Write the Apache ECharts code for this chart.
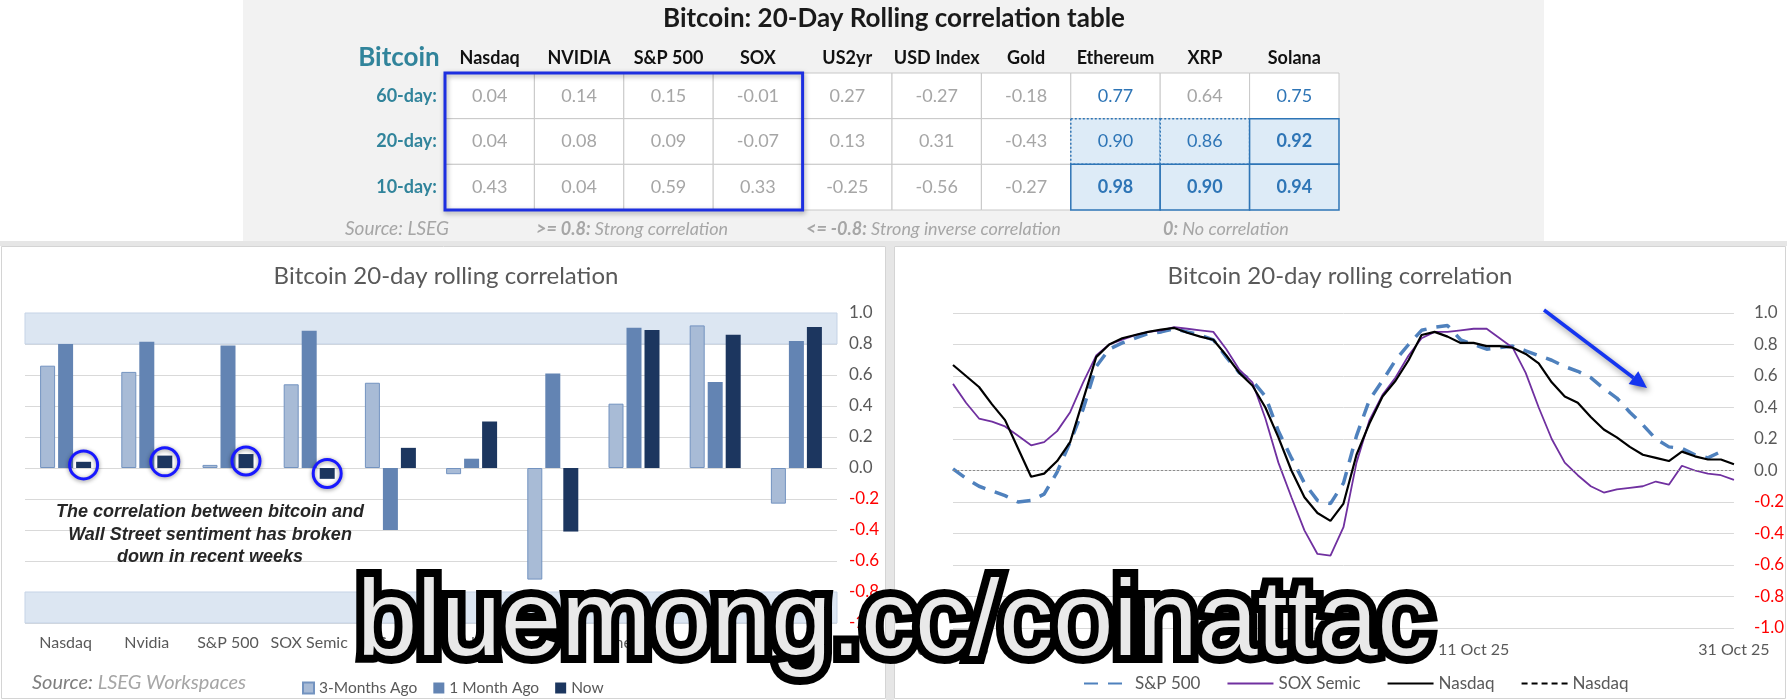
<!DOCTYPE html>
<html><head><meta charset="utf-8">
<script src="https://cdn.jsdelivr.net/npm/echarts@6/dist/echarts.min.js"></script>
<style>html,body{margin:0;padding:0;background:#fff}#c{width:1787px;height:700px}</style>
</head><body><div id="c"></div>
<script>
// ---------- Table data ----------
const tableCols = ['Nasdaq','NVIDIA','S&P 500','SOX','US2yr','USD Index','Gold','Ethereum','XRP','Solana'];
const tableRows = ['60-day:','20-day:','10-day:'];
const corr60 = [0.04, 0.14, 0.15, -0.01, 0.27, -0.27, -0.18, 0.77, 0.64, 0.75];
const corr20 = [0.04, 0.08, 0.09, -0.07, 0.13, 0.31, -0.43, 0.90, 0.86, 0.92];
const corr10 = [0.43, 0.04, 0.59, 0.33, -0.25, -0.56, -0.27, 0.98, 0.90, 0.94];
const equityCols = ['Nasdaq','NVIDIA','S&P 500','SOX'];

// ---------- Bar chart data ----------
const barCats = ['Nasdaq','Nvidia','S&P 500','SOX Semic','US 2yr','USD Index','Gold','Ethereum','XRP','Solana'];
const threeMonthsAgo = [0.66, 0.62, 0.02, 0.54, 0.55, -0.04, -0.72, 0.415, 0.92, -0.23];
const oneMonthAgo    = [0.80, 0.815, 0.79, 0.885, -0.40, 0.06, 0.61, 0.905, 0.555, 0.82];
const nowVals        = [0.04, 0.08, 0.09, -0.07, 0.13, 0.30, -0.41, 0.89, 0.86, 0.91];
const circledCats = ['Nasdaq','Nvidia','S&P 500','SOX Semic'];

// ---------- Line chart data (daily, 01 Sep 25 .. 31 Oct 25) ----------
const spx = [0.01,-0.05,-0.10,-0.13,-0.16,-0.20,-0.19,-0.15,-0.01,0.18,
             0.39,0.66,0.77,0.81,0.84,0.87,0.88,0.90,0.88,0.86,
             0.83,0.72,0.62,0.57,0.47,0.25,0.08,-0.08,-0.19,-0.21,
             -0.08,0.22,0.45,0.57,0.70,0.80,0.89,0.91,0.92,0.83,
             0.80,0.77,0.78,0.79,0.76,0.73,0.70,0.66,0.63,0.59,
             0.52,0.46,0.37,0.29,0.20,0.15,0.14,0.10,0.08,0.12,null];
const sox = [0.55,0.43,0.33,0.31,0.28,0.22,0.16,0.18,0.25,0.37,
             0.56,0.73,0.80,0.83,0.86,0.88,0.89,0.91,0.90,0.89,
             0.88,0.77,0.64,0.56,0.33,0.05,-0.17,-0.38,-0.53,-0.54,
             -0.36,0.05,0.32,0.48,0.59,0.73,0.84,0.88,0.88,0.89,
             0.90,0.90,0.84,0.78,0.62,0.40,0.20,0.05,-0.03,-0.10,
             -0.14,-0.12,-0.11,-0.10,-0.07,-0.09,0.03,0.00,-0.02,-0.03,-0.06];
const nasdaq = [0.67,0.60,0.53,0.42,0.32,0.14,-0.04,-0.02,0.06,0.18,
                0.45,0.72,0.80,0.84,0.86,0.88,0.895,0.905,0.875,0.85,
                0.83,0.73,0.62,0.54,0.40,0.21,0.00,-0.17,-0.27,-0.32,
                -0.21,0.10,0.30,0.47,0.57,0.70,0.86,0.88,0.85,0.81,
                0.81,0.79,0.79,0.78,0.74,0.68,0.56,0.47,0.43,0.34,
                0.26,0.21,0.15,0.10,0.08,0.06,0.12,0.09,0.07,0.07,0.04];
const monthDays = [['Sep', 30], ['Oct', 31]];
const dates = [];
monthDays.forEach(([m, n]) => { for (let d = 1; d <= n; d++) dates.push((d < 10 ? '0' : '') + d + ' ' + m + ' 25'); });

const yTicks = {min: -1, max: 1, interval: 0.2};

// ---------- helpers ----------
const FONT = 'Lato, "Open Sans", sans-serif';
const GRAY = '#595959';
const tableData = [];
[corr60, corr20, corr10].forEach((arr, r) => arr.forEach((v, c) => tableData.push([c, r, v])));

function cellStyle(c, r, v) {
  const crypto = c >= 7;
  const strong = crypto && v >= 0.8;
  const blue = crypto && v >= 0.7;
  const dotted = strong && r === 1 && c < 9;
  return {strong, blue, dotted, bold: strong && !dotted};
}
function renderCell(params, api) {
  const c = api.value(0), r = api.value(1), v = api.value(2);
  const ctr = api.coord([c, r]);
  const sz = api.size([1, 1]);
  const st = cellStyle(c, r, v);
  const x = ctr[0] - sz[0] / 2, y = ctr[1] - sz[1] / 2;
  return {type: 'group', children: [
    {type: 'rect', z2: st.strong ? (st.dotted ? 10 : 11) : 1,
     shape: {x: x, y: y, width: sz[0], height: sz[1]},
     style: {fill: st.strong ? '#ddebf7' : '#ffffff', stroke: st.strong ? '#2e75b6' : '#c8c8c8',
             lineWidth: st.strong ? 1.5 : 1, lineDash: st.dotted ? [2, 2] : null}},
    {type: 'text', z2: 20,
     style: {text: v.toFixed(2), x: ctr[0], y: ctr[1], align: 'center', verticalAlign: 'middle',
             textAlign: 'center', textVerticalAlign: 'middle',
             fill: st.blue ? '#2e75b6' : '#a6a6a6', fontSize: 18,
             fontWeight: st.bold ? 'bold' : 'normal', fontFamily: FONT}}
  ]};
}
function renderBox(params, api) {
  const a = api.coord([api.value(0), api.value(1)]);
  const b = api.coord([api.value(2), api.value(3)]);
  const sz = api.size([1, 1]);
  return {type: 'rect', z2: 30,
    shape: {x: a[0] - sz[0] / 2, y: a[1] - sz[1] / 2, width: b[0] - a[0] + sz[0], height: b[1] - a[1] + sz[1]},
    style: {fill: 'none', stroke: '#1d2fe0', lineWidth: 3, shadowBlur: 5, shadowColor: 'rgba(0,0,0,0.35)', shadowOffsetX: 1, shadowOffsetY: 2}};
}
const yLabel = {
  color: v => Number(v) < 0 ? '#ff0000' : GRAY,
  formatter: v => Number(v).toFixed(1),
  fontSize: 17, fontFamily: FONT
};
function txt(text, x, y, size, color, extra) {
  return Object.assign({type: 'text', z: 50, style: Object.assign({
    text: text, x: x, y: y, fill: color, fontSize: size, fontFamily: FONT,
    align: 'left', textAlign: 'left', verticalAlign: 'middle', textVerticalAlign: 'middle'
  }, extra || {})});
}
const richBold = sz => ({b: {fontWeight: 'bold', fontStyle: 'italic', fontSize: sz, fill: '#a6a6a6', fontFamily: FONT}});

// arrow geometry (annotation)
const arrowFrom = [1544, 310], arrowTo = [1647, 388];
const adx = arrowTo[0] - arrowFrom[0], ady = arrowTo[1] - arrowFrom[1];
const alen = Math.hypot(adx, ady), ux = adx / alen, uy = ady / alen;
const hb = [arrowTo[0] - 17 * ux, arrowTo[1] - 17 * uy];

const WM = 'bluemong.cc/coinattac';
const WMFONT = '"Liberation Sans", Arial, sans-serif';

const chart = echarts.init(document.getElementById('c'), null, {width: 1787, height: 700});
chart.setOption({
  animation: false,
  backgroundColor: '#ffffff',
  textStyle: {fontFamily: FONT},
  graphic: [
    {type: 'rect', z: -10, shape: {x: 243, y: 0, width: 1301, height: 242}, style: {fill: '#f2f2f2'}},
    {type: 'rect', z: -10, shape: {x: 0, y: 241, width: 1787, height: 5}, style: {fill: '#e6e6e6'}},
    {type: 'rect', z: -10, shape: {x: 886, y: 241, width: 8, height: 459}, style: {fill: '#e6e6e6'}},
    {type: 'rect', z: -9, shape: {x: 1.5, y: 246.5, width: 884, height: 452}, style: {fill: '#ffffff', stroke: '#d4d4d4', lineWidth: 1}},
    {type: 'rect', z: -9, shape: {x: 894.5, y: 246.5, width: 891, height: 452}, style: {fill: '#ffffff', stroke: '#d4d4d4', lineWidth: 1}},
    txt('Bitcoin: 20-Day Rolling correlation table', 894, 19, 26, '#1a1a1a', {fontWeight: 'bold', align: 'center', textAlign: 'center'}),
    txt('Bitcoin', 399, 58, 26, '#31849b', {fontWeight: 'bold', align: 'center', textAlign: 'center'}),
    txt('Source: LSEG', 345, 229, 19, '#a6a6a6', {fontStyle: 'italic'}),
    txt('{b|>= 0.8:} Strong correlation', 536, 229, 18, '#a6a6a6', {fontStyle: 'italic', rich: richBold(18)}),
    txt('{b|<= -0.8:} Strong inverse correlation', 806, 229, 18, '#a6a6a6', {fontStyle: 'italic', rich: richBold(18)}),
    txt('{b|0:} No correlation', 1163, 229, 18, '#a6a6a6', {fontStyle: 'italic', rich: richBold(18)}),
    txt('Bitcoin 20-day rolling correlation', 446, 276, 24, GRAY, {align: 'center', textAlign: 'center'}),
    txt('Bitcoin 20-day rolling correlation', 1340, 276, 24, GRAY, {align: 'center', textAlign: 'center'}),
    txt('The correlation between bitcoin and\nWall Street sentiment has broken\ndown in recent weeks', 210, 535, 18, '#262626',
        {fontWeight: 'bold', fontStyle: 'italic', fontFamily: '"Liberation Sans", Arial, sans-serif', align: 'center', textAlign: 'center', lineHeight: 22.5}),
    txt('{a|Source:} {b|LSEG Workspaces}', 32, 683, 20, '#7f7f7f',
        {fontStyle: 'italic', rich: {a: {fill: '#7f7f7f', fontSize: 20, fontStyle: 'italic', fontFamily: FONT}, b: {fill: '#a6a6a6', fontSize: 20, fontStyle: 'italic', fontFamily: FONT}}}),
    {type: 'line', z: 60, shape: {x1: arrowFrom[0], y1: arrowFrom[1], x2: hb[0], y2: hb[1]},
     style: {stroke: '#1535f0', lineWidth: 3.5, shadowBlur: 6, shadowColor: 'rgba(0,0,0,0.45)', shadowOffsetX: 2, shadowOffsetY: 3}},
    {type: 'polygon', z: 60, shape: {points: [arrowTo, [hb[0] - 8 * uy, hb[1] + 8 * ux], [hb[0] + 8 * uy, hb[1] - 8 * ux]]},
     style: {fill: '#1535f0', shadowBlur: 6, shadowColor: 'rgba(0,0,0,0.45)', shadowOffsetX: 2, shadowOffsetY: 3}},
    {type: 'text', z: 100, style: {text: WM, x: 357, y: 625, fontSize: 108, fontFamily: WMFONT,
      fill: '#000', stroke: '#000', lineWidth: 16, lineJoin: 'round', verticalAlign: 'middle', textVerticalAlign: 'middle',
      shadowBlur: 0, shadowColor: 'rgba(0,0,0,0.6)', shadowOffsetX: 3, shadowOffsetY: 3}},
    {type: 'text', z: 101, style: {text: WM, x: 357, y: 625, fontSize: 108, fontFamily: WMFONT,
      fill: '#e9e9e9', verticalAlign: 'middle', textVerticalAlign: 'middle'}}
  ],
  grid: [
    {left: 445, top: 73, width: 894, height: 137},
    {left: 25, top: 313, width: 812, height: 310},
    {left: 953, top: 313, width: 781, height: 315}
  ],
  legend: [
    {data: ['3-Months Ago', '1 Month Ago', 'Now'], left: 297, top: 675, itemWidth: 11, itemHeight: 11, itemGap: 16,
     icon: 'rect', textStyle: {color: GRAY, fontSize: 15.5, fontFamily: FONT}},
    {data: ['S&P 500', 'SOX Semic', 'Nasdaq', 'Nasdaq '], left: 1078, top: 670, itemWidth: 46, itemHeight: 14, itemGap: 26,
     itemStyle: {opacity: 0}, formatter: n => n.trim(), textStyle: {color: GRAY, fontSize: 17, fontFamily: FONT}}
  ],
  xAxis: [
    {gridIndex: 0, type: 'category', position: 'top', data: tableCols,
     axisLine: {show: false}, axisTick: {show: false}, splitLine: {show: false},
     axisLabel: {interval: 0, margin: 6, color: '#111', fontWeight: 'bold', fontSize: 18, fontFamily: FONT}},
    {gridIndex: 1, type: 'category', data: barCats,
     axisLine: {show: false}, axisTick: {show: false},
     axisLabel: {interval: 0, margin: 12, color: GRAY, fontSize: 16, fontFamily: FONT}},
    {gridIndex: 2, type: 'category', data: dates, boundaryGap: false,
     axisLine: {show: false}, axisTick: {show: false}, splitLine: {show: false},
     axisLabel: {interval: 19, margin: 14, color: GRAY, fontSize: 16, fontFamily: FONT}}
  ],
  yAxis: [
    {gridIndex: 0, type: 'category', inverse: true, data: tableRows,
     axisLine: {show: false}, axisTick: {show: false}, splitLine: {show: false},
     axisLabel: {margin: 8, color: '#31849b', fontWeight: 'bold', fontSize: 18, fontFamily: FONT}},
    Object.assign({gridIndex: 1, type: 'value', position: 'right',
     splitLine: {lineStyle: {color: '#d9d9d9'}}, axisLine: {show: false}, axisTick: {show: false},
     axisLabel: Object.assign({margin: 12}, yLabel)}, yTicks),
    Object.assign({gridIndex: 2, type: 'value', position: 'right',
     splitLine: {lineStyle: {color: '#d9d9d9'}}, axisLine: {show: false}, axisTick: {show: false},
     axisLabel: Object.assign({margin: 20}, yLabel)}, yTicks)
  ],
  series: [
    {type: 'custom', xAxisIndex: 0, yAxisIndex: 0, data: tableData, renderItem: renderCell, clip: false, silent: true, z: 3},
    {type: 'custom', xAxisIndex: 0, yAxisIndex: 0, clip: false, silent: true, z: 5,
     data: [[tableCols.indexOf(equityCols[0]), 0, tableCols.indexOf(equityCols[equityCols.length - 1]), tableRows.length - 1]],
     renderItem: renderBox},
    {name: 'bands', type: 'line', xAxisIndex: 1, yAxisIndex: 1, data: [], z: 1, silent: true,
     markArea: {silent: true, itemStyle: {color: '#dce6f2', borderColor: '#c5d3e6', borderWidth: 1},
       data: [[{yAxis: 0.8}, {yAxis: 1}], [{yAxis: -1}, {yAxis: -0.8}]]}},
    {name: '3-Months Ago', type: 'bar', xAxisIndex: 1, yAxisIndex: 1, data: threeMonthsAgo, barWidth: 15, barGap: '20%',
     itemStyle: {color: '#a8bbd6', borderColor: '#7393c0', borderWidth: 1}},
    {name: '1 Month Ago', type: 'bar', xAxisIndex: 1, yAxisIndex: 1, data: oneMonthAgo, barWidth: 15, barGap: '20%',
     itemStyle: {color: '#6384b3'}},
    {name: 'Now', type: 'bar', xAxisIndex: 1, yAxisIndex: 1, data: nowVals, barWidth: 15, barGap: '20%',
     itemStyle: {color: '#1c365f'},
     markPoint: {silent: true, symbol: 'circle', symbolSize: 28, label: {show: false},
       itemStyle: {color: 'rgba(0,0,0,0)', borderColor: '#1818ff', borderWidth: 3, shadowBlur: 4, shadowColor: 'rgba(0,0,0,0.45)', shadowOffsetY: 1},
       data: circledCats.map(c => { const i = barCats.indexOf(c); return {coord: [i, nowVals[i] / 2]}; })}},
    {name: 'Nasdaq ', type: 'line', xAxisIndex: 2, yAxisIndex: 2, data: [], z: 1, symbol: 'none',
     lineStyle: {color: '#000', width: 2, type: [6, 4]}, itemStyle: {color: '#000'},
     markLine: {silent: true, symbol: ['none', 'none'], label: {show: false},
       lineStyle: {color: '#8c8c8c', type: [2, 2], width: 1}, data: [{yAxis: 0}]}},
    {name: 'S&P 500', type: 'line', xAxisIndex: 2, yAxisIndex: 2, data: spx, symbol: 'none', z: 3,
     lineStyle: {color: '#4f81bd', width: 3.5, type: [14, 10]}, itemStyle: {color: '#4f81bd'}},
    {name: 'SOX Semic', type: 'line', xAxisIndex: 2, yAxisIndex: 2, data: sox, symbol: 'none', z: 4,
     lineStyle: {color: '#7030a0', width: 1.8}, itemStyle: {color: '#7030a0'}},
    {name: 'Nasdaq', type: 'line', xAxisIndex: 2, yAxisIndex: 2, data: nasdaq, symbol: 'none', z: 5,
     lineStyle: {color: '#000', width: 2.2}, itemStyle: {color: '#000'}}
  ]
});
</script></body></html>
